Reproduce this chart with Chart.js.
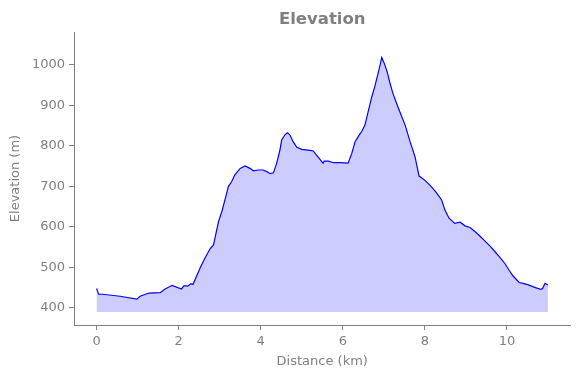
<!DOCTYPE html>
<html>
<head>
<meta charset="utf-8">
<style>
  html, body { margin: 0; padding: 0; background: #ffffff; }
  #wrap { width: 580px; height: 378px; }
</style>
<script src="https://cdn.jsdelivr.net/npm/chart.js@4/dist/chart.umd.min.js"></script>
</head>
<body>
<div id="wrap"><canvas id="elevChart" width="580" height="378"></canvas></div>
<script>
// Profile
const distanceKm = [
    0.00, 0.05, 0.15, 0.57, 0.98, 1.06, 1.28, 1.55, 1.67, 1.84,
    2.07, 2.13, 2.22, 2.30, 2.35, 2.52, 2.63, 2.77, 2.85, 2.97,
    3.06, 3.17, 3.21, 3.29, 3.37, 3.50, 3.62, 3.74, 3.82, 3.94,
    4.06, 4.15, 4.23, 4.31, 4.39, 4.47, 4.51, 4.59, 4.65, 4.71,
    4.79, 4.88, 5.00, 5.24, 5.28, 5.36, 5.44, 5.52, 5.55, 5.65,
    5.77, 5.93, 6.13, 6.22, 6.30, 6.38, 6.46, 6.54, 6.60, 6.70,
    6.78, 6.86, 6.92, 6.95, 7.01, 7.08, 7.15, 7.22, 7.31, 7.39,
    7.52, 7.64, 7.76, 7.86, 7.96, 8.08, 8.19, 8.29, 8.41, 8.49,
    8.59, 8.73, 8.86, 8.98, 9.10, 9.22, 9.34, 9.46, 9.59, 9.71,
    9.83, 9.95, 10.05, 10.15, 10.30, 10.40, 10.52, 10.68, 10.82, 10.87,
    10.93, 11.00
];
const elevationM = [
    447, 433, 433, 428, 421, 428, 436, 437, 446, 455,
    446, 454, 453, 459, 457, 497, 520, 546, 555, 612,
    640, 682, 699, 711, 728, 744, 750, 744, 738, 740,
    740, 736, 731, 733, 757, 790, 814, 827, 832, 827,
    810, 796, 791, 788, 787, 777, 767, 757, 762, 762,
    758, 758, 757, 781, 810, 823, 835, 851, 876, 918,
    946, 979, 1004, 1018, 1004, 983, 955, 930, 905, 884,
    851, 810, 773, 725, 718, 707, 695, 683, 666, 641,
    621, 608, 611, 602, 598, 588, 577, 565, 552, 538,
    524, 509, 493, 478, 462, 460, 456, 450, 445, 447,
    460, 456
];
const fillBase = 389;
const xTicks = [0, 2, 4, 6, 8, 10];
const yTicks = [400, 500, 600, 700, 800, 900, 1000];

const grey = '#808080';
const fontFamily = '"DejaVu Sans", sans-serif';

const points = distanceKm.map((d, i) => ({ x: d, y: elevationM[i] }));

const ctx = document.getElementById('elevChart').getContext('2d');
new Chart(ctx, {
    type: 'line',
    data: {
        datasets: [{
            label: 'Elevation',
            data: points,
            borderColor: '#0000ff',
            borderWidth: 1.2,
            backgroundColor: 'rgba(0, 0, 255, 0.2)',
            fill: { value: fillBase },
            pointRadius: 0,
            tension: 0
        }]
    },
    options: {
        responsive: false,
        animation: false,
        layout: { padding: { left: 0, right: 9.5, top: 0, bottom: 0 } },
        plugins: {
            legend: { display: false },
            tooltip: { enabled: false },
            title: {
                display: true,
                fullSize: false,
                text: 'Elevation',
                color: grey,
                font: { family: fontFamily, size: 16.5, weight: 'bold' },
                padding: { top: 10, bottom: 2.2 }
            }
        },
        scales: {
            x: {
                type: 'linear',
                min: -0.55,
                max: 11.55,
                afterBuildTicks: (scale) => { scale.ticks = xTicks.map(v => ({ value: v })); },
                afterFit: (scale) => { scale.height = 53; },
                grid: { display: true, drawOnChartArea: false, drawTicks: true, tickLength: 5, color: grey },
                border: { display: true, color: grey, width: 1 },
                ticks: {
                    color: grey, padding: 4, maxRotation: 0,
                    font: { family: fontFamily, size: 13 },
                    callback: (v) => String(v)
                },
                title: {
                    display: true,
                    text: 'Distance (km)',
                    color: grey,
                    font: { family: fontFamily, size: 13 },
                    padding: { top: 0, bottom: 8.2 }
                }
            },
            y: {
                type: 'linear',
                min: 357,
                max: 1081,
                afterBuildTicks: (scale) => { scale.ticks = yTicks.map(v => ({ value: v })); },
                afterFit: (scale) => { scale.width = 74; },
                grid: { display: true, drawOnChartArea: false, drawTicks: true, tickLength: 5, color: grey },
                border: { display: true, color: grey, width: 1 },
                ticks: {
                    color: grey, padding: 4,
                    font: { family: fontFamily, size: 13 },
                    callback: (v) => String(v)
                },
                title: {
                    display: true,
                    text: 'Elevation (m)',
                    color: grey,
                    font: { family: fontFamily, size: 13 },
                    padding: { top: 8, bottom: 0 }
                }
            }
        }
    }
});
</script>
</body>
</html>
